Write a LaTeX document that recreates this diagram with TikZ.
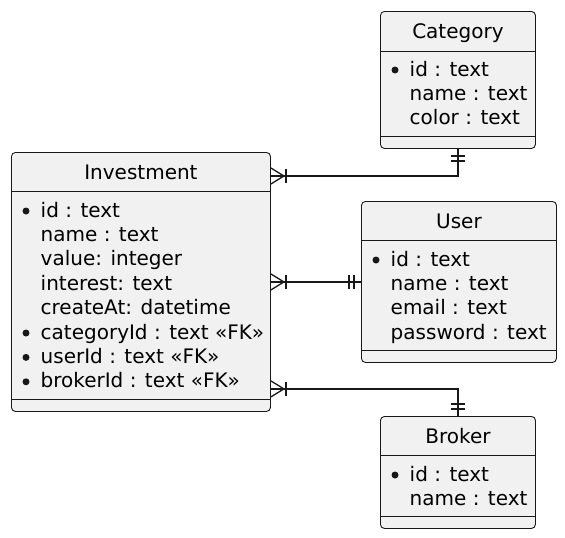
\documentclass[tikz,border=0pt]{standalone}
\usepackage{fontspec}
\setmainfont{DejaVu Sans}
\definecolor{linec}{HTML}{181818}
\definecolor{boxfill}{HTML}{F1F1F1}
\tikzset{
  entity/.style={draw=linec, fill=boxfill, rounded corners=4pt, line width=0.9pt, inner sep=0pt, anchor=north west},
  sepline/.style={draw=linec, line width=0.9pt},
  etitle/.style={anchor=base, inner sep=0pt, font=\fontsize{20}{24}\selectfont},
  fieldtxt/.style={anchor=base west, inner sep=0pt, font=\fontsize{20}{24}\selectfont},
  conn/.style={draw=linec, line width=1.3pt},
  crowfoot/.pic={\draw[conn] (0,-8) -- (13,0) -- (0,8); \draw[conn] (15,-7) -- (15,7);},
  onlyone/.pic={\draw[conn] (7,-7) -- (7,7); \draw[conn] (12,-7) -- (12,7);}
}
\newcommand\fieldn[4]{\node[fieldtxt] (#4) at ([xshift=29.5pt,yshift=-#2pt]#1.north west) {#3};}
\newcommand\fieldb[4]{\fill[linec] ([xshift=15pt,yshift=-#2pt+6pt]#1.north west) circle (3.5pt); \fieldn{#1}{#2}{#3}{#4}}
\newcommand\seps[3]{%
  \draw[sepline] ([yshift=-#2pt]#1.north west) -- ([yshift=-#2pt]#1.north east);
  \draw[sepline] ([yshift=-#3pt]#1.north west) -- ([yshift=-#3pt]#1.north east);}
\begin{document}
\begin{tikzpicture}[x=1pt,y=-1pt]
\useasboundingbox (0,0) rectangle (565,538);
% Category
\node[entity, minimum width=155pt, minimum height=137pt] (cat) at (380,11) {};
\seps{cat}{40}{125}
\node[etitle] (catT) at ([yshift=-27pt]cat.north) {Category};
\fieldb{cat}{65}{id : text}{cat1}
\fieldn{cat}{89.4}{name : text}{cat2}
\fieldn{cat}{113.8}{color : text}{cat3}
% Investment
\node[entity, minimum width=259pt, minimum height=259pt] (inv) at (11,152) {};
\seps{inv}{39}{247}
\node[etitle] (invT) at ([yshift=-27pt]inv.north) {Investment};
\fieldb{inv}{65}{id : text}{inv1}
\fieldn{inv}{89.4}{name : text}{inv2}
\fieldn{inv}{113.8}{value: integer}{inv3}
\fieldn{inv}{138.2}{interest: text}{inv4}
\fieldn{inv}{162.6}{createAt: datetime}{inv5}
\fieldb{inv}{187}{categoryId : text «FK»}{inv6}
\fieldb{inv}{211.4}{userId : text «FK»}{inv7}
\fieldb{inv}{235.8}{brokerId : text «FK»}{inv8}
% User
\node[entity, minimum width=195pt, minimum height=161pt] (usr) at (361,201) {};
\seps{usr}{39}{149}
\node[etitle] (usrT) at ([yshift=-27pt]usr.north) {User};
\fieldb{usr}{65}{id : text}{usr1}
\fieldn{usr}{89.4}{name : text}{usr2}
\fieldn{usr}{113.8}{email : text}{usr3}
\fieldn{usr}{138.2}{password : text}{usr4}
% Broker
\node[entity, minimum width=155pt, minimum height=112pt] (brk) at (380,416) {};
\seps{brk}{39}{100}
\node[etitle] (brkT) at ([yshift=-27pt]brk.north) {Broker};
\fieldb{brk}{65}{id : text}{brk1}
\fieldn{brk}{89.4}{name : text}{brk2}
% Connectors
\coordinate (c1) at ([yshift=-24pt]inv.north east);
\draw[conn] (c1) -| (cat.south);
\pic at (c1) {crowfoot};
\pic[rotate=-90] at (cat.south) {onlyone};
\coordinate (c2) at (inv.east |- usr.west);
\draw[conn] (c2) -- (usr.west);
\pic at (c2) {crowfoot};
\pic[rotate=180] at (usr.west) {onlyone};
\coordinate (c3) at ([yshift=23pt]inv.south east);
\draw[conn] (c3) -| (brk.north);
\pic at (c3) {crowfoot};
\pic[rotate=90] at (brk.north) {onlyone};
\end{tikzpicture}
\end{document}
